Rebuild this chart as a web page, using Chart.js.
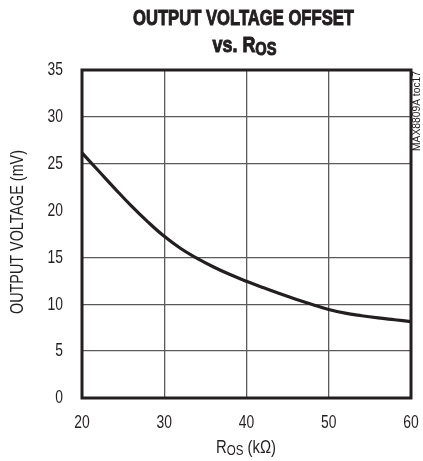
<!DOCTYPE html>
<html>
<head>
<meta charset="utf-8">
<script src="https://cdn.jsdelivr.net/npm/chart.js@4.4.1/dist/chart.umd.min.js"></script>
<style>
  html, body { margin: 0; padding: 0; background: #fff; }
  #wrap { width: 423px; height: 461px; position: relative; }
</style>
</head>
<body>
<div id="wrap"><canvas id="c"></canvas></div>
<script>
  // R_OS in kOhm
  var rosValues = [20, 22, 24, 26, 28, 30, 32, 34, 36, 38, 40, 42, 44, 46, 48, 50, 52, 54, 56, 58, 60];
  // output voltage offset in mV
  var offsetMv = [26.15, 24.25, 22.35, 20.5, 18.8, 17.25, 15.95, 14.9, 13.98, 13.17, 12.45, 11.78, 11.14, 10.54, 9.98, 9.45, 9.05, 8.78, 8.55, 8.35, 8.15];
  var xTicks = [20, 30, 40, 50, 60];
  var yTicks = [0, 5, 10, 15, 20, 25, 30, 35];

  var FONT = '"Liberation Sans", Arial, sans-serif';
  var INK = "#231f20";

  // draw text squeezed horizontally; parts = [[text, isSub], ...]
  // width: target width in px, or null to use squeeze factor sx
  function drawNarrow(ctx, parts, x, cy, size, weight, align, width, sx, heavy) {
    var subSize = Math.round(size * 0.8);
    var total = 0;
    parts.forEach(function (p) {
      ctx.font = weight + " " + (p[1] ? subSize : size) + "px " + FONT;
      total += ctx.measureText(p[0]).width;
    });
    var k = width ? width / total : sx;
    var w = total * k;
    var x0 = align === "center" ? x - w / 2 : align === "right" ? x - w : x;
    ctx.save();
    ctx.translate(x0, cy);
    ctx.scale(k, 1);
    ctx.textAlign = "left";
    ctx.textBaseline = "middle";
    ctx.strokeStyle = ctx.fillStyle;
    ctx.lineWidth = heavy || 0;
    var px = 0;
    parts.forEach(function (p) {
      ctx.font = weight + " " + (p[1] ? subSize : size) + "px " + FONT;
      var py = p[1] ? size * 0.2 : 0;
      ctx.fillText(p[0], px, py);
      if (heavy) ctx.strokeText(p[0], px, py);
      px += ctx.measureText(p[0]).width;
    });
    ctx.restore();
  }

  var decor = {
    id: "decor",
    beforeDatasetsDraw: function (chart) {
      var ctx = chart.ctx, a = chart.chartArea;
      ctx.save();
      ctx.strokeStyle = INK;
      ctx.lineWidth = 3;
      ctx.strokeRect(a.left, a.top, a.right - a.left, a.bottom - a.top);
      ctx.restore();
    },
    afterDraw: function (chart) {
      var ctx = chart.ctx;
      var sx = chart.scales.x, sy = chart.scales.y;
      ctx.save();
      ctx.fillStyle = INK;

      // tick labels
      xTicks.forEach(function (v) {
        drawNarrow(ctx, [[String(v), false]], sx.getPixelForValue(v), 423, 19, "normal", "center", null, 0.73);
      });
      yTicks.forEach(function (v) {
        drawNarrow(ctx, [[String(v), false]], 63, sy.getPixelForValue(v), 19, "normal", "right", null, 0.73);
      });

      // titles
      drawNarrow(ctx, [["OUTPUT VOLTAGE OFFSET", false]], 243.5, 19, 22, "bold", "center", 221, null, 1);
      drawNarrow(ctx, [["vs. R", false], ["OS", true]], 244.5, 46, 22, "bold", "center", 64, null, 1);
      drawNarrow(ctx, [["R", false], ["OS", true], [" (k\u03a9)", false]], 246, 448, 18, "normal", "center", 60);

      ctx.save();
      ctx.translate(18, 232);
      ctx.rotate(-Math.PI / 2);
      drawNarrow(ctx, [["OUTPUT VOLTAGE (mV)", false]], 0, 0, 18, "normal", "center", 164);
      ctx.restore();

      ctx.translate(417, 111);
      ctx.rotate(-Math.PI / 2);
      drawNarrow(ctx, [["MAX8809A toc17", false]], 0, 0, 10, "normal", "center", 80);
      ctx.restore();
    }
  };

  function innerGrid(c) {
    var t = c.tick ? c.tick.value : null;
    return (t === 0 || t === 20 || t === 35 || t === 60) ? "rgba(0,0,0,0)" : "#5a5a5a";
  }

  new Chart(document.getElementById("c").getContext("2d"), {
    type: "line",
    data: {
      datasets: [{
        data: rosValues.map(function (r, i) { return { x: r, y: offsetMv[i] }; }),
        borderColor: INK,
        borderWidth: 3.2,
        pointRadius: 0,
        fill: false,
        tension: 0.4
      }]
    },
    plugins: [decor],
    options: {
      responsive: true,
      maintainAspectRatio: false,
      animation: false,
      devicePixelRatio: 1,
      layout: { padding: { top: 70, right: 12, left: 0, bottom: 0 } },
      plugins: { legend: { display: false }, tooltip: { enabled: false }, title: { display: false } },
      scales: {
        x: {
          type: "linear",
          min: 20, max: 60,
          afterBuildTicks: function (s) { s.ticks = xTicks.map(function (v) { return { value: v }; }); },
          afterFit: function (s) { s.height = 63; s.paddingLeft = 0; s.paddingRight = 0; },
          grid: { color: innerGrid, lineWidth: 1.3, drawTicks: false },
          border: { display: false },
          ticks: { display: false }
        },
        y: {
          min: 0, max: 35,
          afterBuildTicks: function (s) { s.ticks = yTicks.map(function (v) { return { value: v }; }); },
          afterFit: function (s) { s.width = 82; s.paddingTop = 0; s.paddingBottom = 0; },
          grid: { color: innerGrid, lineWidth: 1.3, drawTicks: false },
          border: { display: false },
          ticks: { display: false }
        }
      }
    }
  });
</script>
</body>
</html>
